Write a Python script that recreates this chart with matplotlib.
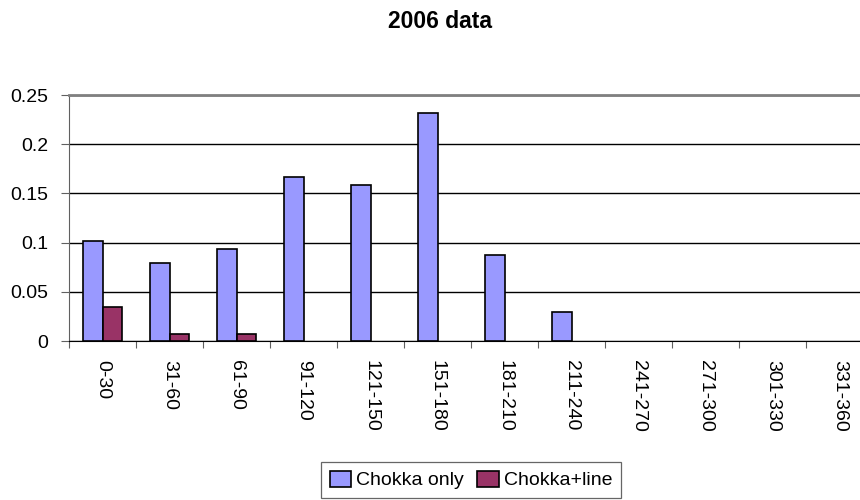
import matplotlib
matplotlib.use("Agg")
from matplotlib import pyplot as plt
import numpy as np

plt.rcParams['font.family'] = ['Liberation Sans', 'DejaVu Sans']

categories = ["0-30", "31-60", "61-90", "91-120", "121-150", "151-180",
              "181-210", "211-240", "241-270", "271-300", "301-330", "331-360"]
chokka_only = [0.102, 0.079, 0.094, 0.167, 0.159, 0.232, 0.087, 0.029, 0, 0, 0, 0]
chokka_line = [0.035, 0.0075, 0.0075, 0, 0, 0, 0, 0, 0, 0, 0, 0]

fig = plt.figure(figsize=(8.6, 5.0), dpi=100)
ax = fig.add_axes([69 / 860, 159 / 500, 804 / 860, 246 / 500])

x = np.arange(len(categories)) + 0.5
w = 0.29
# zero-height bars get no outline, as in the original
ax.bar(x - w / 2, chokka_only, w, color="#9999FF", edgecolor="black",
       linewidth=[1.2 if v else 0 for v in chokka_only],
       label="Chokka only", zorder=3)
ax.bar(x + w / 2, chokka_line, w, color="#993366", edgecolor="black",
       linewidth=[1.2 if v else 0 for v in chokka_line],
       label="Chokka+line", zorder=3)

ax.set_xlim(0, len(categories))
ax.set_ylim(0, 0.25)
ax.set_yticks(np.arange(0, 0.2501, 0.05))
ax.set_yticklabels(["0", "0.05", "0.1", "0.15", "0.2", "0.25"], fontsize=14)
ax.yaxis.grid(True, color="black", lw=1)
ax.set_axisbelow(True)

ax.set_xticks(np.arange(len(categories) + 1))
ax.set_xticklabels([])
ax.set_xticks(x, minor=True)
ax.set_xticklabels(categories, minor=True, rotation=-90, fontsize=14)
ax.tick_params(axis="x", which="minor", length=0, pad=14)
ax.tick_params(axis="x", which="major", length=5, direction="out", color="#606060")
ax.tick_params(axis="y", length=6, direction="out", pad=9, color="#606060")

ax.spines["right"].set_visible(False)
ax.spines["top"].set_color("#808080")
ax.spines["top"].set_linewidth(2)
ax.spines["left"].set_color("#606060")
ax.spines["bottom"].set_color("black")

fig.text(440 / 860, 1 - 21 / 500, "2006 data", ha="center", va="center",
         fontsize=16.5, fontweight="bold")

leg = fig.legend(loc="center", bbox_to_anchor=(471 / 860, 1 - 480 / 500), ncol=2,
                 fontsize=14, frameon=True, fancybox=False, edgecolor="#404040",
                 handlelength=1.1, handleheight=0.9, handletextpad=0.25,
                 columnspacing=0.7, borderpad=0.45, borderaxespad=0)
leg.get_frame().set_linewidth(0.9)

fig.savefig("out.png", dpi=100)
